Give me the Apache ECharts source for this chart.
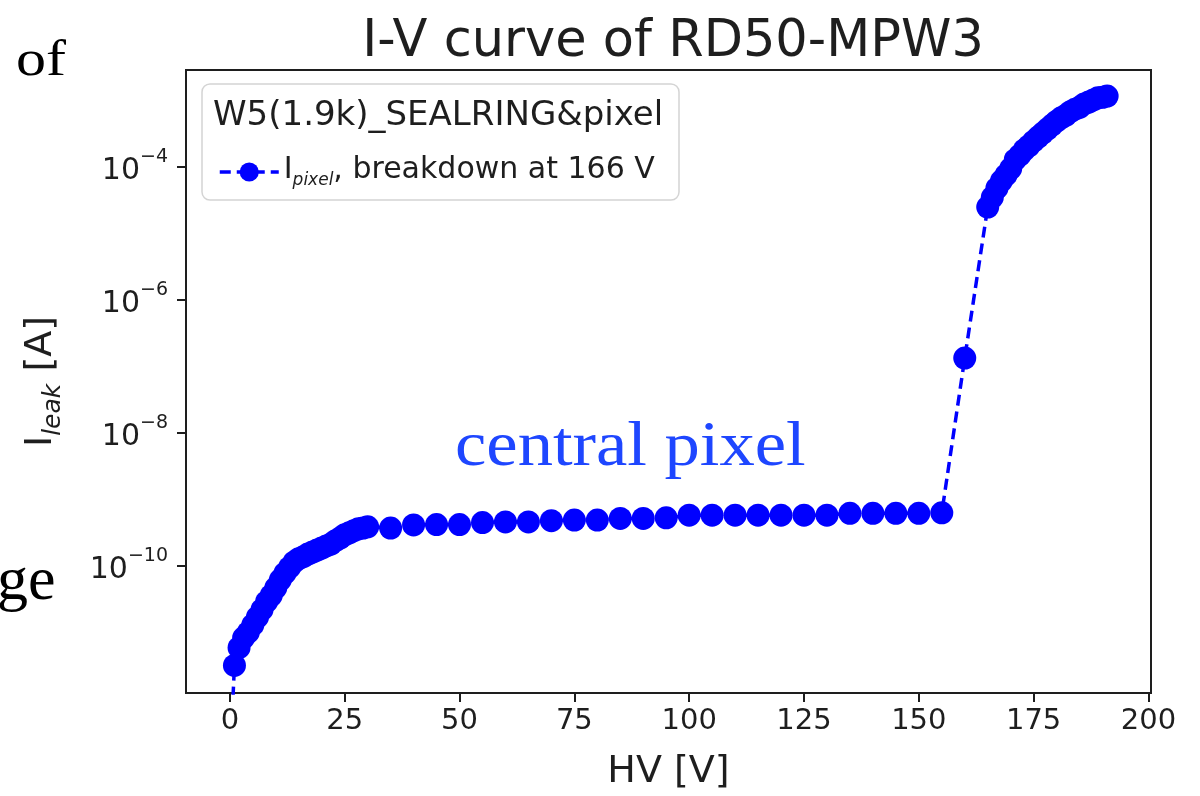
<!DOCTYPE html>
<html><head><meta charset="utf-8">
<script src="https://cdn.jsdelivr.net/npm/echarts@6/dist/echarts.min.js"></script>
<style>html,body{margin:0;padding:0;background:#fff}#c{width:1200px;height:796px}</style>
</head><body><div id="c"></div>
<script>
// Bias voltage [V]
const voltage = [
  0,1,2,3,4,5,6,7,8,9,10,11,12,13,14,15,16,17,18,19,20,21,22,23,24,25,26,27,28,29,30,
  35,40,45,50,55,60,65,70,75,80,85,90,95,100,105,110,115,120,125,130,135,140,145,150,155,
  160,
  165,166,167,168,169,170,171,172,173,174,175,176,177,178,179,180,181,182,183,184,185,186,187,188,189,190,191
];
// Leakage current of the central pixel [A]
const current = [
  1.0e-13,3.2e-12,5.9e-12,8.3e-12,1.0e-11,1.3e-11,1.7e-11,2.2e-11,2.9e-11,3.6e-11,4.7e-11,
  6.2e-11,7.8e-11,9.5e-11,1.15e-10,1.29e-10,1.38e-10,1.51e-10,1.62e-10,1.74e-10,1.86e-10,
  2.0e-10,2.14e-10,2.4e-10,2.63e-10,2.95e-10,3.16e-10,3.39e-10,3.63e-10,3.72e-10,3.89e-10,
  3.72e-10,4.14e-10,4.2e-10,4.2e-10,4.5e-10,4.6e-10,4.6e-10,4.8e-10,4.9e-10,4.9e-10,
  5.2e-10,5.2e-10,5.3e-10,5.8e-10,5.8e-10,5.8e-10,5.8e-10,5.8e-10,5.8e-10,5.8e-10,
  6.2e-10,6.2e-10,6.2e-10,6.2e-10,6.3e-10,
  1.34e-7,
  2.5e-5,3.5e-5,4.8e-5,6.2e-5,7.6e-5,9.5e-5,1.29e-4,1.51e-4,1.82e-4,2.09e-4,2.45e-4,
  2.82e-4,3.24e-4,3.72e-4,4.27e-4,4.9e-4,5.5e-4,6.0e-4,6.8e-4,7.4e-4,7.9e-4,8.9e-4,
  9.5e-4,1.02e-3,1.10e-3,1.12e-3,1.17e-3
];
const xTickValues = [0,25,50,75,100,125,150,175,200];
const yTickValues = [1e-10,1e-8,1e-6,1e-4];
const seriesName = 'I_pixel, breakdown at 166 V';
const legendTitle = 'W5(1.9k)_SEALRING&pixel';
const chartTitle = 'I-V curve of RD50-MPW3';
const annotation = 'central pixel';

const FONT = 'DejaVu Sans';
const INK = '#1e1e1e';
const chart = echarts.init(document.getElementById('c'), null, {renderer: 'canvas'});
const data = voltage.map((v, i) => [v, current[i]]);

chart.setOption({
  animation: false,
  backgroundColor: '#fff',
  title: {
    text: chartTitle, left: 668, top: 12, textAlign: 'center',
    textStyle: {fontFamily: FONT, fontSize: 51, fontWeight: 'normal', color: INK}
  },
  grid: {left: 186, right: 49, top: 70, bottom: 103, show: true, borderColor: INK, borderWidth: 2, backgroundColor: 'transparent'},
  xAxis: {
    type: 'value', min: -9.55, max: 200.55,
    name: 'HV [V]', nameLocation: 'middle', nameGap: 60,
    nameTextStyle: {fontFamily: FONT, fontSize: 38, color: INK},
    axisLine: {show: true, onZero: false, lineStyle: {color: INK, width: 2}},
    axisTick: {show: true, length: 9, lineStyle: {color: INK, width: 2}, customValues: xTickValues},
    axisLabel: {margin: 14, fontFamily: FONT, fontSize: 29, color: INK, customValues: xTickValues},
    splitLine: {show: false}
  },
  yAxis: {
    type: 'log', logBase: 10, min: 1.23e-12, max: 2.88e-3,
    name: '{i|I}{s|leak}{i| [A]}', nameLocation: 'middle', nameGap: 120, nameRotate: 90,
    nameTextStyle: {fontFamily: FONT, color: INK, rich: {
      i: {fontFamily: FONT, fontSize: 38, lineHeight: 44, color: INK, verticalAlign: 'top'},
      s: {fontFamily: FONT, fontSize: 25, fontStyle: 'italic', lineHeight: 44, color: INK, verticalAlign: 'bottom'}
    }},
    axisLine: {show: true, onZero: false, lineStyle: {color: INK, width: 2}},
    axisTick: {show: true, length: 9, lineStyle: {color: INK, width: 2}, customValues: yTickValues},
    axisLabel: {
      margin: 18, customValues: yTickValues,
      formatter: v => '{b|10}{s|\u2212' + Math.round(-Math.log10(v)) + '}',
      rich: {
        b: {fontFamily: FONT, fontSize: 30, lineHeight: 38, color: INK, verticalAlign: 'bottom'},
        s: {fontFamily: FONT, fontSize: 19, lineHeight: 38, color: INK, verticalAlign: 'top'}
      }
    },
    splitLine: {show: false}
  },
  legend: {
    left: 213, top: 150, itemWidth: 59, itemHeight: 24, z: 10,
    data: [seriesName],
    lineStyle: {width: 3.5},
    formatter: () => '{i|I}{s|pixel}{i|, breakdown at 166 V}',
    textStyle: {fontFamily: FONT, fontSize: 30, color: INK, rich: {
      i: {fontFamily: FONT, fontSize: 30, lineHeight: 34, color: INK, verticalAlign: 'top'},
      s: {fontFamily: FONT, fontSize: 17, fontStyle: 'italic', lineHeight: 34, color: INK, verticalAlign: 'bottom'}
    }}
  },
  graphic: [
    {type: 'rect', z: 5, shape: {x: 202, y: 84, width: 477, height: 116, r: 8},
     style: {fill: '#fff', stroke: '#d4d4d4', lineWidth: 1.5}},
    {type: 'text', z: 11, x: 213, y: 116,
     style: {text: legendTitle, font: '34px "DejaVu Sans"', fill: INK, verticalAlign: 'middle'}},
    {type: 'text', z: 11, x: 455, y: 448, scaleX: 1.12,
     style: {text: annotation, font: '63px "Liberation Serif"', fill: '#1e46ff', verticalAlign: 'middle'}},
    {type: 'text', z: 11, x: 16, y: 37, scaleX: 1.2,
     style: {text: 'of', font: '50px "Liberation Serif"', fill: '#000', verticalAlign: 'alphabetic'}},
    {type: 'text', z: 11, x: -3, y: 552,
     style: {text: 'ge', font: '62px "Liberation Serif"', fill: '#000', verticalAlign: 'alphabetic'}}
  ],
  series: [{
    name: seriesName, type: 'line', data: data,
    symbol: 'circle', symbolSize: 23, showSymbol: true,
    itemStyle: {color: '#0000ff'},
    lineStyle: {color: '#0000ff', width: 3.5, type: [11, 6]},
    clip: true
  }]
});
</script>
</body></html>
